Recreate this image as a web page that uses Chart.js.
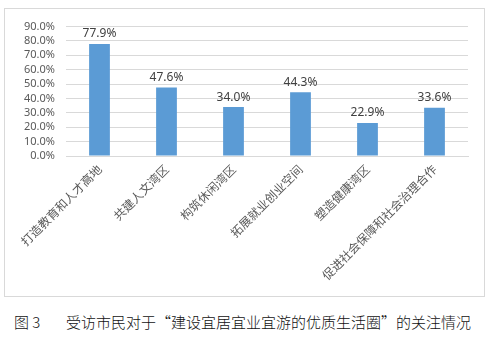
<!DOCTYPE html>
<html>
<head>
<meta charset="utf-8">
<script src="https://cdn.jsdelivr.net/npm/chart.js@4/dist/chart.umd.min.js"></script>
<style>
  body { margin: 0; width: 501px; height: 340px; background: #fff; position: relative; overflow: hidden; }
  #frame { position: absolute; left: 4px; top: 8px; width: 479px; height: 287px; border: 1px solid #d9d9d9; }
  #caption { position: absolute; left: 14px; top: 313px; font-family: "Noto Sans CJK SC", sans-serif; font-size: 15px; font-weight: 300; color: #111; white-space: nowrap; line-height: 18px; }
  #caption .num { display: inline-block; width: 52px; }
</style>
</head>
<body>
<div id="frame"><canvas id="chart"></canvas></div>
<div id="caption"><span class="num">图 3</span>受访市民对于“建设宜居宜业宜游的优质生活圈”的关注情况</div>
<script>
const categories = ['打造教育和人才高地', '共建人文湾区', '构筑休闲湾区', '拓展就业创业空间', '塑造健康湾区', '促进社会保障和社会治理合作'];
const values = [77.9, 47.6, 34.0, 44.3, 22.9, 33.6];
const yTicks = [0, 10, 20, 30, 40, 50, 60, 70, 80, 90];

// draw value labels above the bars
const barLabels = {
    id: 'barLabels',
    afterDatasetsDraw(chart) {
        const ctx = chart.ctx;
        const meta = chart.getDatasetMeta(0);
        ctx.save();
        ctx.font = '12px "Noto Sans", sans-serif';
        ctx.fillStyle = '#404040';
        ctx.textAlign = 'center';
        ctx.textBaseline = 'bottom';
        meta.data.forEach((bar, i) => {
            ctx.fillText(values[i].toFixed(1) + '%', bar.x, bar.y - 4);
        });
        ctx.restore();
    }
};

const ctx = document.getElementById('chart').getContext('2d');
new Chart(ctx, {
    type: 'bar',
    data: { labels: categories, datasets: [{ data: values, backgroundColor: '#5b9bd5', barPercentage: 0.62, categoryPercentage: 0.5 }] },
    options: {
        responsive: true, maintainAspectRatio: false, animation: false,
        layout: { padding: { top: 14, right: 16, left: 0, bottom: 0 } },
        plugins: { legend: { display: false }, tooltip: { enabled: false } },
        scales: {
            x: {
                grid: { display: false, drawTicks: false },
                border: { color: '#d9d9d9' },
                ticks: { color: '#595959', font: { family: '"Noto Sans CJK SC", sans-serif', size: 12 }, minRotation: 45, maxRotation: 45, padding: 6, autoSkip: false },
                afterFit: (scale) => { scale.height = 140; }
            },
            y: {
                min: 0, max: 90,
                afterBuildTicks: (scale) => { scale.ticks = yTicks.map(v => ({ value: v })); },
                grid: { color: '#d9d9d9', drawTicks: false },
                border: { display: false },
                ticks: { autoSkip: false, color: '#595959', font: { family: '"Noto Sans", sans-serif', size: 11 }, padding: 11, callback: (v) => v.toFixed(1) + '%' },
                afterFit: (scale) => { scale.width = 61; }
            }
        }
    },
    plugins: [barLabels]
});
</script>
</body>
</html>
